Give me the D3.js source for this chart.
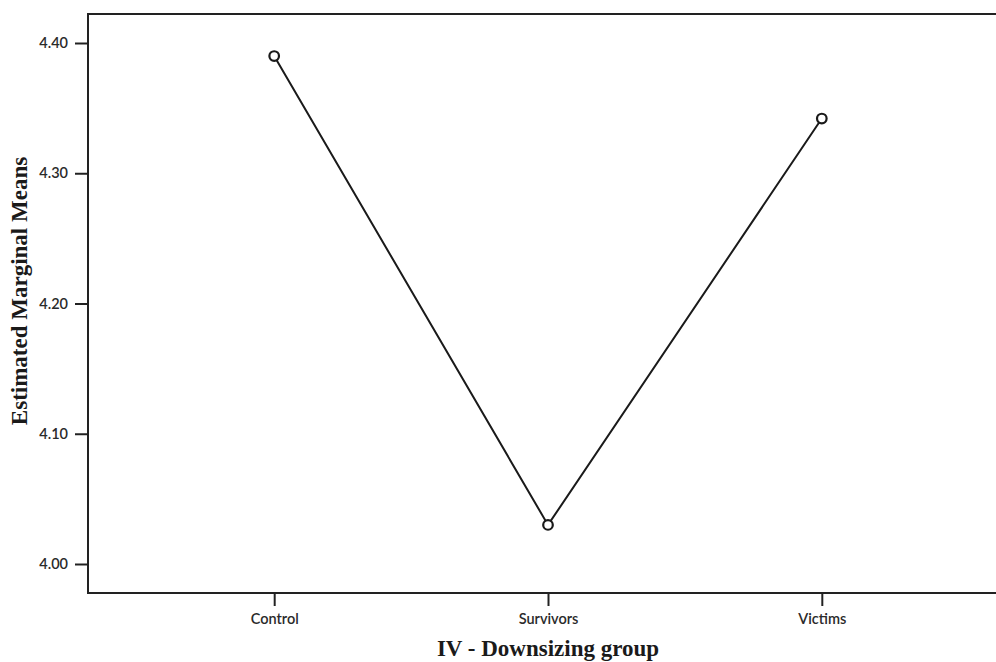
<!DOCTYPE html>
<html>
<head>
<meta charset="utf-8">
<script src="https://cdn.jsdelivr.net/npm/d3@7"></script>
<style>
  html, body { margin: 0; padding: 0; background: #fff; }
  svg { display: block; }
  .tick text { font-family: Lato, "Open Sans", sans-serif; font-size: 14.5px; font-weight: 600; fill: #2a2a2a; }
  .tick line { stroke: #222; stroke-width: 2; }
  .title { font-family: "Liberation Serif", "DejaVu Serif", serif; font-weight: bold; font-size: 23px; fill: #1a1a1a; }
</style>
</head>
<body>
<script>
var groups = ['Control', 'Survivors', 'Victims'];
var means = [4.390, 4.030, 4.342];
var yTicks = [4.00, 4.10, 4.20, 4.30, 4.40];

var width = 996;
var height = 662;
// frame runs off the right edge in the source picture
var frame = { left: 88, top: 14, right: 1008, bottom: 593 };

var svg = d3.select('body').append('svg')
    .attr('width', width)
    .attr('height', height);

var x = d3.scalePoint()
    .domain(groups)
    .range([frame.left, frame.right])
    .padding(0.68);

var y = d3.scaleLinear()
    .domain([4.00, 4.40])
    .range([564, 43]);

svg.append('rect')
    .attr('x', frame.left)
    .attr('y', frame.top)
    .attr('width', frame.right - frame.left)
    .attr('height', frame.bottom - frame.top)
    .attr('fill', 'none')
    .attr('stroke', '#222')
    .attr('stroke-width', 2);

var yAxis = svg.append('g')
    .attr('transform', 'translate(' + frame.left + ',0)')
    .call(d3.axisLeft(y).tickValues(yTicks).tickFormat(d3.format('.2f')).tickSize(13).tickPadding(7));
yAxis.select('.domain').remove();

var xAxis = svg.append('g')
    .attr('transform', 'translate(0,' + frame.bottom + ')')
    .call(d3.axisBottom(x).tickSize(13).tickPadding(8));
xAxis.select('.domain').remove();

var line = d3.line()
    .x(function(d, i) { return x(groups[i]); })
    .y(function(d) { return y(d); });

svg.append('path')
    .datum(means)
    .attr('d', line)
    .attr('fill', 'none')
    .attr('stroke', '#1a1a1a')
    .attr('stroke-width', 2);

svg.append('g').selectAll('circle')
    .data(means)
    .enter().append('circle')
    .attr('cx', function(d, i) { return x(groups[i]); })
    .attr('cy', function(d) { return y(d); })
    .attr('r', 4.8)
    .attr('fill', '#fff')
    .attr('stroke', '#1a1a1a')
    .attr('stroke-width', 2.2);

svg.append('text')
    .attr('class', 'title')
    .attr('x', 548)
    .attr('y', 656)
    .attr('text-anchor', 'middle')
    .text('IV - Downsizing group');

svg.append('text')
    .attr('class', 'title')
    .attr('transform', 'translate(27,291) rotate(-90)')
    .attr('text-anchor', 'middle')
    .text('Estimated Marginal Means');
</script>
</body>
</html>
